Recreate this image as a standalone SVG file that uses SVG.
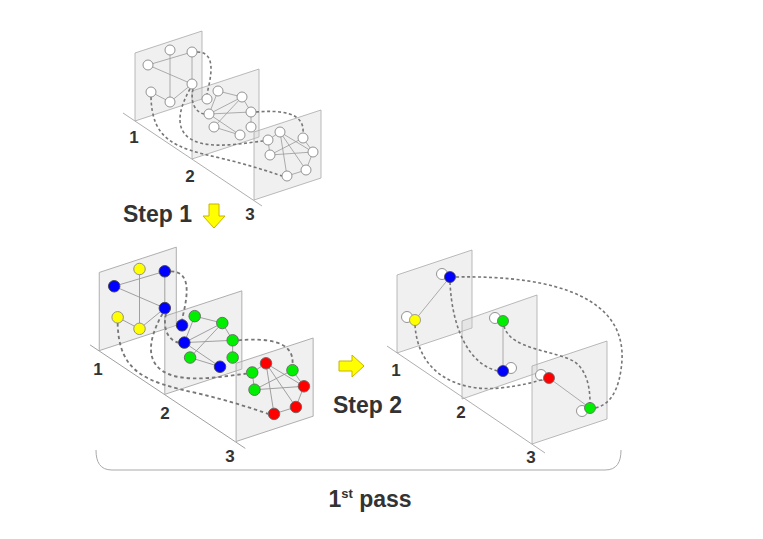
<svg xmlns="http://www.w3.org/2000/svg" width="763" height="539" viewBox="0 0 763 539">
<style>
.panel{fill:#cccccc;fill-opacity:0.3;stroke:#a8a8a8;stroke-width:0.8}
.floor{stroke:#999;stroke-width:0.8;fill:none}
.e{stroke:#999;stroke-width:0.8;fill:none}
.d{stroke:#777;stroke-width:1.6;stroke-dasharray:3,2.5;fill:none}
.w{fill:#fff;stroke:#888;stroke-width:0.9}
.y{fill:#ffff00;stroke:#888;stroke-width:0.8}
.b{fill:#0000ff;stroke:#444;stroke-width:0.8}
.g{fill:#00ee00;stroke:#666;stroke-width:0.8}
.r{fill:#ff0000;stroke:#666;stroke-width:0.8}
.gh{fill:#fff;stroke:#888;stroke-width:0.9}
.lbl{font-family:"Liberation Sans",Arial,sans-serif;font-weight:bold;font-size:17px;fill:#333;text-anchor:middle}
.big{font-family:"Liberation Sans",Arial,sans-serif;font-weight:bold;font-size:23px;fill:#333}
.arrow{fill:#ffff00;stroke:#c8b400;stroke-width:1}
</style>

<!-- ===== Top diagram ===== -->
<g id="top">
  <line class="floor" x1="123" y1="113" x2="262" y2="206"/>
  <g id="top-panel1"><polygon class="panel" points="135,53 202,31 202,99 135,121"/></g>
  <g id="top-panel2"><polygon class="panel" points="192,91 259,69 259,137 192,159"/></g>
  <g id="top-panel3"><polygon class="panel" points="254,132 321,110 321,178 254,200"/></g>
  <g id="top-connectors">
    <line class="e" x1="148" y1="65" x2="192" y2="52"/>
    <line class="e" x1="170" y1="50" x2="170" y2="102"/>
    <line class="e" x1="192" y1="52" x2="192" y2="84"/>
    <line class="e" x1="148" y1="65" x2="192" y2="84"/>
    <line class="e" x1="151" y1="92" x2="170" y2="102"/>
    <line class="e" x1="170" y1="102" x2="192" y2="84"/>
    <line class="e" x1="218" y1="91" x2="242" y2="97"/>
    <line class="e" x1="218" y1="91" x2="209" y2="114"/>
    <line class="e" x1="242" y1="97" x2="251" y2="112"/>
    <line class="e" x1="209" y1="114" x2="251" y2="112"/>
    <line class="e" x1="209" y1="114" x2="242" y2="97"/>
    <line class="e" x1="214" y1="127" x2="242" y2="97"/>
    <line class="e" x1="214" y1="127" x2="240" y2="135"/>
    <line class="e" x1="209" y1="114" x2="240" y2="135"/>
    <line class="e" x1="251" y1="112" x2="251" y2="127"/>
    <line class="e" x1="268" y1="140" x2="280" y2="132"/>
    <line class="e" x1="268" y1="140" x2="270" y2="155"/>
    <line class="e" x1="280" y1="132" x2="313" y2="152"/>
    <line class="e" x1="280" y1="132" x2="306" y2="170"/>
    <line class="e" x1="280" y1="132" x2="287" y2="176"/>
    <line class="e" x1="303" y1="138" x2="313" y2="152"/>
    <line class="e" x1="313" y1="152" x2="306" y2="170"/>
    <line class="e" x1="306" y1="170" x2="287" y2="176"/>
    <line class="e" x1="270" y1="155" x2="313" y2="152"/>
    <line class="e" x1="270" y1="155" x2="303" y2="138"/>
    <path class="d" d="M197,52 C218,52 210,80 207,94"/>
    <path class="d" d="M151,97 C152,140 175,148 220,158 C250,165 270,172 282,176"/>
    <path class="d" d="M190,89 C178,110 172,135 200,143 C220,148 245,143 263,141"/>
    <path class="d" d="M193,89 C190,102 195,112 204,114"/>
    <path class="d" d="M256,112 C280,110 305,112 303,133"/>
  </g>
  <g id="t1a"><circle class="w" cx="170" cy="50" r="5"/></g>
  <g id="t1b"><circle class="w" cx="192" cy="52" r="5"/></g>
  <g id="t1c"><circle class="w" cx="148" cy="65" r="5"/></g>
  <g id="t1d"><circle class="w" cx="192" cy="84" r="5"/></g>
  <g id="t1e"><circle class="w" cx="151" cy="92" r="5"/></g>
  <g id="t1f"><circle class="w" cx="170" cy="102" r="5"/></g>
  <g id="t2a"><circle class="w" cx="218" cy="91" r="5"/></g>
  <g id="t2b"><circle class="w" cx="242" cy="97" r="5"/></g>
  <g id="t2c"><circle class="w" cx="207" cy="99" r="5"/></g>
  <g id="t2d"><circle class="w" cx="209" cy="114" r="5"/></g>
  <g id="t2e"><circle class="w" cx="251" cy="112" r="5"/></g>
  <g id="t2f"><circle class="w" cx="214" cy="127" r="5"/></g>
  <g id="t2g"><circle class="w" cx="251" cy="127" r="5"/></g>
  <g id="t2h"><circle class="w" cx="240" cy="135" r="5"/></g>
  <g id="t3a"><circle class="w" cx="280" cy="132" r="5"/></g>
  <g id="t3b"><circle class="w" cx="303" cy="138" r="5"/></g>
  <g id="t3c"><circle class="w" cx="268" cy="140" r="5"/></g>
  <g id="t3d"><circle class="w" cx="270" cy="155" r="5"/></g>
  <g id="t3e"><circle class="w" cx="313" cy="152" r="5"/></g>
  <g id="t3f"><circle class="w" cx="306" cy="170" r="5"/></g>
  <g id="t3g"><circle class="w" cx="287" cy="176" r="5"/></g>
  <text class="lbl" x="134" y="143">1</text>
  <text class="lbl" x="190" y="182">2</text>
  <text class="lbl" x="250" y="220">3</text>
</g>

<!-- Step 1 -->
<text class="big" x="123" y="222">Step 1</text>
<g id="arrow1"><polygon class="arrow" points="209,204 219,204 219,216 225,216 214,228 203,216 209,216"/></g>

<!-- ===== Bottom-left diagram ===== -->
<g id="bottom-left" transform="translate(-56,211.5) scale(1.15)">
  <line class="floor" x1="127" y1="116" x2="262" y2="206"/>
  <g id="bl-panel1"><polygon class="panel" points="135,53 202,31 202,99 135,121"/></g>
  <g id="bl-panel2"><polygon class="panel" points="192,91 259,69 259,137 192,159"/></g>
  <g id="bl-panel3"><polygon class="panel" points="254,132 321,110 321,178 254,200"/></g>
  <g id="bl-connectors">
    <line class="e" x1="148" y1="65" x2="192" y2="52"/>
    <line class="e" x1="170" y1="50" x2="170" y2="102"/>
    <line class="e" x1="192" y1="52" x2="192" y2="84"/>
    <line class="e" x1="148" y1="65" x2="192" y2="84"/>
    <line class="e" x1="151" y1="92" x2="170" y2="102"/>
    <line class="e" x1="170" y1="102" x2="192" y2="84"/>
    <line class="e" x1="218" y1="91" x2="242" y2="97"/>
    <line class="e" x1="218" y1="91" x2="209" y2="114"/>
    <line class="e" x1="242" y1="97" x2="251" y2="112"/>
    <line class="e" x1="209" y1="114" x2="251" y2="112"/>
    <line class="e" x1="209" y1="114" x2="242" y2="97"/>
    <line class="e" x1="214" y1="127" x2="242" y2="97"/>
    <line class="e" x1="214" y1="127" x2="240" y2="135"/>
    <line class="e" x1="209" y1="114" x2="240" y2="135"/>
    <line class="e" x1="251" y1="112" x2="251" y2="127"/>
    <line class="e" x1="268" y1="140" x2="280" y2="132"/>
    <line class="e" x1="268" y1="140" x2="270" y2="155"/>
    <line class="e" x1="280" y1="132" x2="313" y2="152"/>
    <line class="e" x1="280" y1="132" x2="306" y2="170"/>
    <line class="e" x1="280" y1="132" x2="287" y2="176"/>
    <line class="e" x1="303" y1="138" x2="313" y2="152"/>
    <line class="e" x1="313" y1="152" x2="306" y2="170"/>
    <line class="e" x1="306" y1="170" x2="287" y2="176"/>
    <line class="e" x1="270" y1="155" x2="313" y2="152"/>
    <line class="e" x1="270" y1="155" x2="303" y2="138"/>
    <path class="d" d="M197,52 C218,52 210,80 207,94"/>
    <path class="d" d="M151,97 C152,140 175,148 220,158 C250,165 270,172 282,176"/>
    <path class="d" d="M190,89 C178,110 172,135 200,143 C220,148 245,143 263,141"/>
    <path class="d" d="M193,89 C190,102 195,112 204,114"/>
    <path class="d" d="M256,112 C280,110 305,112 303,133"/>
  </g>
  <g id="b1a"><circle class="y" cx="170" cy="50" r="5"/></g>
  <g id="b1b"><circle class="b" cx="192" cy="52" r="5"/></g>
  <g id="b1c"><circle class="b" cx="148" cy="65" r="5"/></g>
  <g id="b1d"><circle class="b" cx="192" cy="84" r="5"/></g>
  <g id="b1e"><circle class="y" cx="151" cy="92" r="5"/></g>
  <g id="b1f"><circle class="y" cx="170" cy="102" r="5"/></g>
  <g id="b2a"><circle class="g" cx="218" cy="91" r="5"/></g>
  <g id="b2b"><circle class="g" cx="242" cy="97" r="5"/></g>
  <g id="b2c"><circle class="b" cx="207" cy="99" r="5"/></g>
  <g id="b2d"><circle class="b" cx="209" cy="114" r="5"/></g>
  <g id="b2e"><circle class="g" cx="251" cy="112" r="5"/></g>
  <g id="b2f"><circle class="g" cx="214" cy="127" r="5"/></g>
  <g id="b2g"><circle class="g" cx="251" cy="127" r="5"/></g>
  <g id="b2h"><circle class="b" cx="240" cy="135" r="5"/></g>
  <g id="b3a"><circle class="r" cx="280" cy="132" r="5"/></g>
  <g id="b3b"><circle class="g" cx="303" cy="138" r="5"/></g>
  <g id="b3c"><circle class="g" cx="268" cy="140" r="5"/></g>
  <g id="b3d"><circle class="g" cx="270" cy="155" r="5"/></g>
  <g id="b3e"><circle class="r" cx="313" cy="152" r="5"/></g>
  <g id="b3f"><circle class="r" cx="306" cy="170" r="5"/></g>
  <g id="b3g"><circle class="r" cx="287" cy="176" r="5"/></g>
</g>
<text class="lbl" x="98" y="375">1</text>
<text class="lbl" x="165" y="419">2</text>
<text class="lbl" x="230" y="462">3</text>

<!-- Step 2 -->
<g id="arrow2"><polygon class="arrow" points="339,361 352,361 352,355 364,366 352,377 352,371 339,371"/></g>
<text class="big" x="333" y="413">Step 2</text>

<!-- ===== Bottom-right diagram ===== -->
<g id="bottom-right">
  <line class="floor" x1="387" y1="346" x2="545" y2="453"/>
  <g id="br-panel1"><polygon class="panel" points="397,275 472,250 472,328 397,353"/></g>
  <g id="br-panel2"><polygon class="panel" points="462,321 537,295 537,373 462,399"/></g>
  <g id="br-panel3"><polygon class="panel" points="532,366 607,341 607,419 532,444"/></g>
  <g id="br-ghosts">
    <circle class="gh" cx="442" cy="274" r="5.5"/>
    <circle class="gh" cx="407" cy="317" r="5.5"/>
    <circle class="gh" cx="495" cy="318" r="5.5"/>
    <circle class="gh" cx="511" cy="368" r="5.5"/>
    <circle class="gh" cx="541" cy="375" r="5.5"/>
    <circle class="gh" cx="582" cy="411" r="5.5"/>
  </g>
  <g id="br-connectors">
    <line class="e" x1="450" y1="277" x2="415" y2="320"/>
    <line class="e" x1="503" y1="321" x2="503" y2="371"/>
    <line class="e" x1="549" y1="378" x2="590" y2="408"/>
    <path class="d" d="M456,277 C560,275 625,300 622,360 C620,390 610,405 595,408"/>
    <path class="d" d="M450,282 C452,330 470,365 498,371"/>
    <path class="d" d="M415,325 C418,375 460,392 500,388 C520,386 535,382 544,379"/>
    <path class="d" d="M504,326 C510,350 555,350 575,362 C588,372 590,390 590,403"/>
  </g>
  <g id="r1a"><circle class="b" cx="450" cy="277" r="5.5"/></g>
  <g id="r1b"><circle class="y" cx="415" cy="320" r="5.5"/></g>
  <g id="r2a"><circle class="g" cx="503" cy="321" r="5.5"/></g>
  <g id="r2b"><circle class="b" cx="503" cy="371" r="5.5"/></g>
  <g id="r3a"><circle class="r" cx="549" cy="378" r="5.5"/></g>
  <g id="r3b"><circle class="g" cx="590" cy="408" r="5.5"/></g>
  <text class="lbl" x="396" y="376">1</text>
  <text class="lbl" x="461" y="418">2</text>
  <text class="lbl" x="531" y="463">3</text>
</g>

<!-- Brace -->
<path id="brace" d="M96,450 C96,462 100,470 112,470 L605,470 C617,470 621,462 621,450" fill="none" stroke="#aaa" stroke-width="1"/>

<text class="big" x="370" y="507" text-anchor="middle">1<tspan font-size="13" dy="-9">st</tspan><tspan dy="9"> pass</tspan></text>
</svg>
